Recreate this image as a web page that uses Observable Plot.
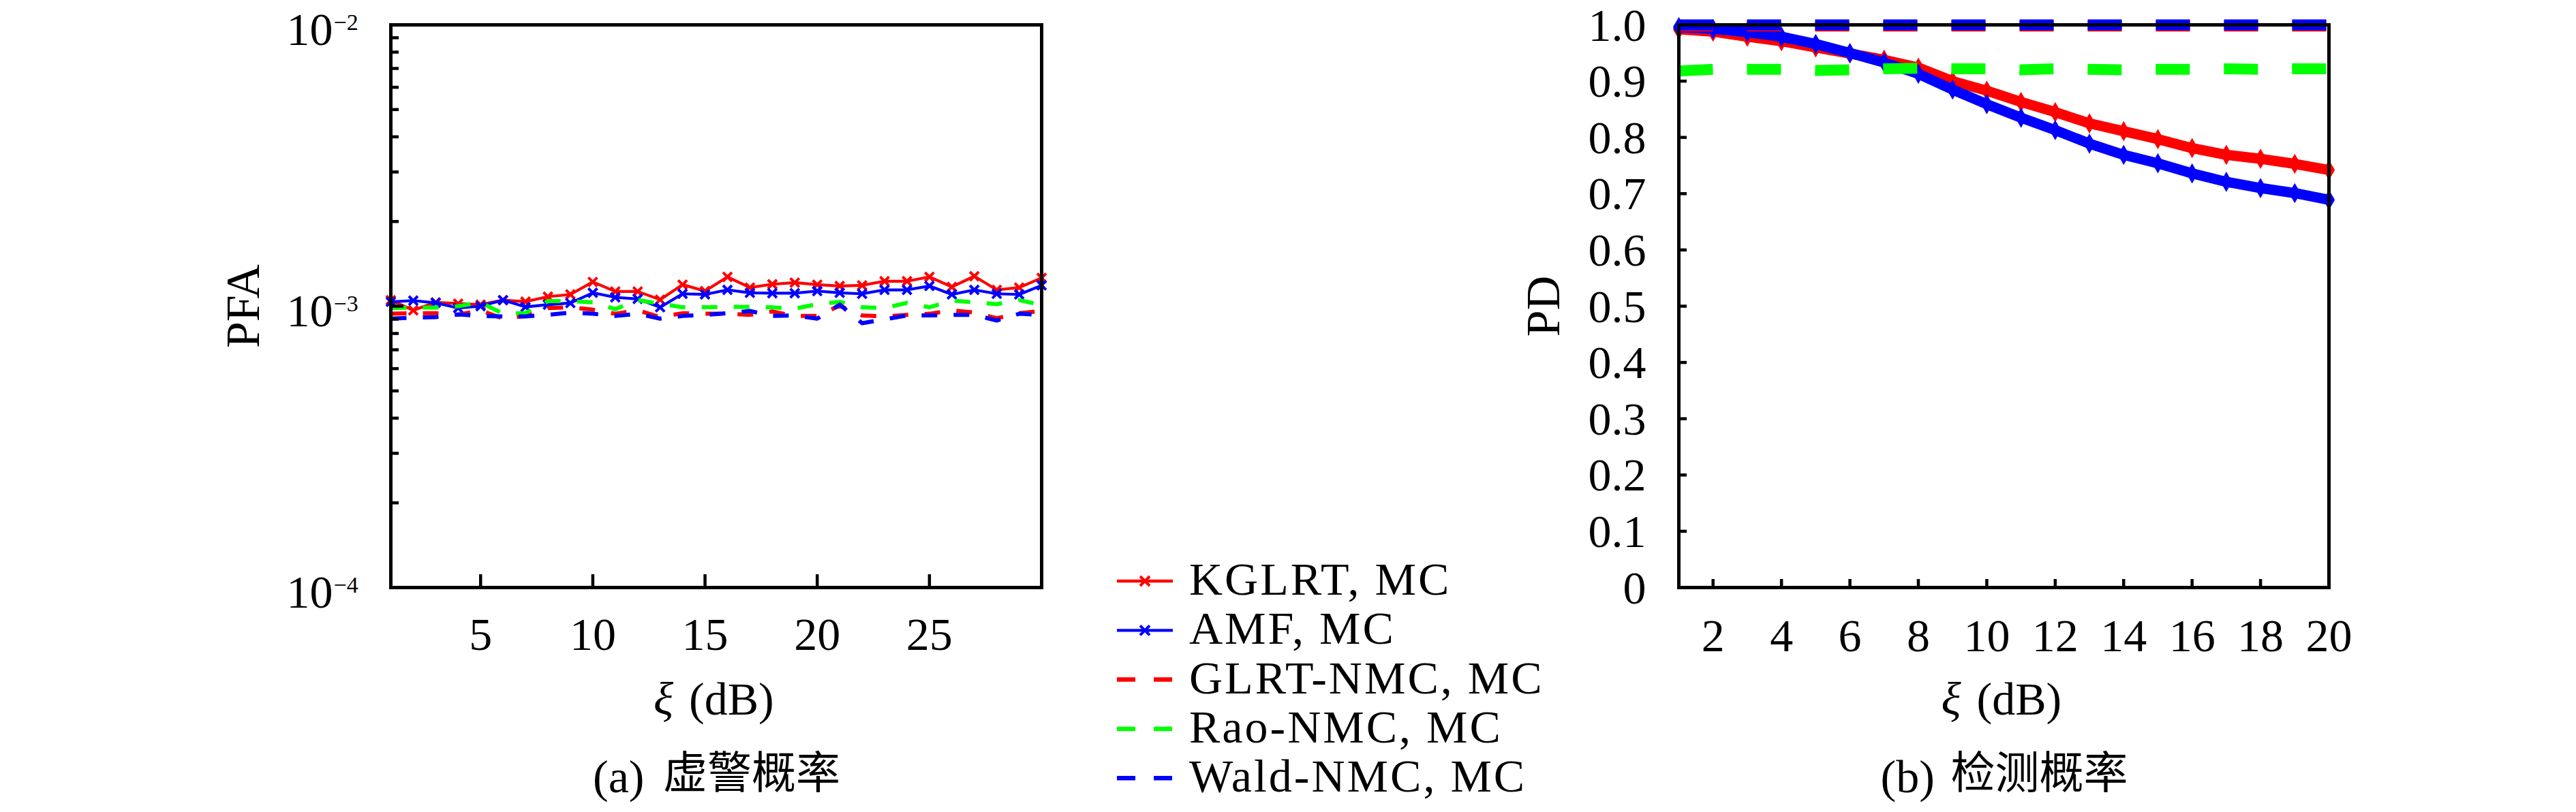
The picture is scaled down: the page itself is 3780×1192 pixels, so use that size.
<!DOCTYPE html>
<html><head><meta charset="utf-8">
<script src="https://cdn.jsdelivr.net/npm/d3@7"></script>
<script src="https://cdn.jsdelivr.net/npm/@observablehq/plot@0.6"></script>
<style>
html,body{margin:0;padding:0;background:#fff;}
#page{position:relative;width:3780px;height:1192px;overflow:hidden;background:#fff;}
#page > svg{position:absolute;top:0;}
</style></head><body><div id="page"></div>
<script>
const SERIF = "'Liberation Serif','DejaVu Serif',serif";
const CJK = "'Noto Sans CJK SC','Noto Sans CJK JP',sans-serif";

// ---- series ----
const seriesNames = ["KGLRT, MC", "AMF, MC", "GLRT-NMC, MC", "Rao-NMC, MC", "Wald-NMC, MC"];
const seriesColors = ["#ff0000", "#0000ff", "#ff0000", "#00ff00", "#0000ff"];
const seriesDashed = [false, false, true, true, true];
const seriesMarked = [true, true, false, false, false];

// ---- (a) PFA vs xi ----
const xiPFA = [1,2,3,4,5,6,7,8,9,10,11,12,13,14,15,16,17,18,19,20,21,22,23,24,25,26,27,28,29,30];
const pfaKGLRT = [1.051e-3,0.967e-3,1.032e-3,1.022e-3,1.013e-3,1.051e-3,1.038e-3,1.081e-3,1.101e-3,1.220e-3,1.128e-3,1.128e-3,1.055e-3,1.193e-3,1.132e-3,1.271e-3,1.165e-3,1.197e-3,1.213e-3,1.193e-3,1.180e-3,1.186e-3,1.227e-3,1.227e-3,1.271e-3,1.171e-3,1.278e-3,1.143e-3,1.165e-3,1.261e-3];
const pfaAMF = [1.036e-3,1.047e-3,1.028e-3,0.985e-3,1.000e-3,1.051e-3,0.994e-3,1.013e-3,1.026e-3,1.116e-3,1.075e-3,1.061e-3,0.991e-3,1.107e-3,1.101e-3,1.143e-3,1.116e-3,1.112e-3,1.112e-3,1.132e-3,1.116e-3,1.107e-3,1.143e-3,1.143e-3,1.180e-3,1.101e-3,1.143e-3,1.107e-3,1.101e-3,1.186e-3];
const pfaGLRTNMC = [0.940e-3,0.944e-3,0.944e-3,0.932e-3,0.967e-3,0.903e-3,0.923e-3,0.985e-3,0.991e-3,0.972e-3,0.940e-3,0.967e-3,0.915e-3,0.944e-3,0.940e-3,0.940e-3,0.932e-3,0.958e-3,0.923e-3,0.923e-3,1.004e-3,0.927e-3,0.920e-3,0.932e-3,0.940e-3,0.967e-3,0.949e-3,0.906e-3,0.944e-3,0.962e-3];
const pfaRaoNMC = [0.985e-3,0.989e-3,0.989e-3,1.000e-3,1.032e-3,0.940e-3,0.946e-3,1.042e-3,1.042e-3,1.032e-3,0.976e-3,1.051e-3,1.022e-3,0.991e-3,0.991e-3,0.994e-3,0.994e-3,0.991e-3,0.980e-3,1.017e-3,1.036e-3,0.991e-3,0.985e-3,1.028e-3,0.991e-3,1.047e-3,1.032e-3,1.017e-3,1.051e-3,1.010e-3];
const pfaWaldNMC = [0.903e-3,0.910e-3,0.915e-3,0.935e-3,0.923e-3,0.920e-3,0.920e-3,0.932e-3,0.949e-3,0.940e-3,0.923e-3,0.940e-3,0.903e-3,0.923e-3,0.932e-3,0.944e-3,0.962e-3,0.923e-3,0.927e-3,0.903e-3,1.013e-3,0.870e-3,0.898e-3,0.927e-3,0.927e-3,0.932e-3,0.932e-3,0.889e-3,0.940e-3,0.932e-3];

// ---- (b) PD vs xi ----
const xiPD = [1,2,3,4,5,6,7,8,9,10,11,12,13,14,15,16,17,18,19,20];
const pdKGLRT = [0.992,0.988,0.979,0.971,0.960,0.949,0.938,0.924,0.900,0.883,0.863,0.845,0.825,0.811,0.797,0.781,0.769,0.762,0.753,0.742];
const pdAMF = [0.996,0.993,0.987,0.979,0.966,0.950,0.933,0.913,0.885,0.859,0.835,0.813,0.789,0.769,0.754,0.736,0.721,0.710,0.701,0.689];
const pdGLRTNMC = [0.998,0.998,0.998,0.998,0.998,0.998,0.998,0.998,0.998,0.998,0.998,0.998,0.998,0.998,0.998,0.998,0.998,0.998,0.998,0.998];
const pdRaoNMC = [0.918,0.921,0.921,0.921,0.919,0.920,0.922,0.923,0.922,0.922,0.920,0.922,0.921,0.920,0.921,0.921,0.922,0.921,0.922,0.922];
const pdWaldNMC = [1.0,1.0,1.0,1.0,1.0,1.0,1.0,1.0,1.0,1.0,1.0,1.0,1.0,1.0,1.0,1.0,1.0,1.0,1.0,1.0];

// ---- ticks / labels ----
const pfaXTicks = [5, 10, 15, 20, 25];
const pfaYMajor = [1e-4, 1e-3, 1e-2];
const pfaYExp = ["\u22124", "\u22123", "\u22122"];
const pfaYMinor = [2e-4,3e-4,4e-4,5e-4,6e-4,7e-4,8e-4,9e-4,2e-3,3e-3,4e-3,5e-3,6e-3,7e-3,8e-3,9e-3];
const pdXTicks = [2, 4, 6, 8, 10, 12, 14, 16, 18, 20];
const pdYTicks = [0, 0.1, 0.2, 0.3, 0.4, 0.5, 0.6, 0.7, 0.8, 0.9, 1.0];
const pdYLabels = ["0", "0.1", "0.2", "0.3", "0.4", "0.5", "0.6", "0.7", "0.8", "0.9", "1.0"];
const xLabelSym = "\u03BE";
const xLabelUnit = "(dB)";
const pfaYLabel = "PFA";
const pdYLabel = "PD";
const captionA = ["(a)", "虚警概率"];
const captionB = ["(b)", "检测概率"];

const page = document.getElementById("page");
const rows = (xs, ys) => xs.map((x, j) => ({x, y: ys[j]}));

const FT = 36, FB = 862, FH = FB - FT;

function labelMarks(ylabel, ylabelDx, caption) {
  return [
    Plot.text([ylabel], {text: d => d, frameAnchor: "left", rotate: -90, dx: ylabelDx, fontSize: 70, fontFamily: SERIF, textAnchor: "middle", lineAnchor: "middle", fill: "black"}),
    Plot.text([xLabelSym], {text: d => d, frameAnchor: "bottom", textAnchor: "start", lineAnchor: "bottom", dx: -92, dy: 186, fontSize: 68, fontStyle: "italic", fontFamily: SERIF, fill: "black"}),
    Plot.text([xLabelUnit], {text: d => d, frameAnchor: "bottom", textAnchor: "start", lineAnchor: "bottom", dx: -40, dy: 186, fontSize: 68, fontFamily: SERIF, fill: "black"}),
    Plot.text([caption[0]], {text: d => d, frameAnchor: "bottom", textAnchor: "start", lineAnchor: "bottom", dx: -181, dy: 300, fontSize: 68, fontFamily: SERIF, fill: "black"}),
    Plot.text([caption[1]], {text: d => d, frameAnchor: "bottom", textAnchor: "start", lineAnchor: "bottom", dx: -78, dy: 294, fontSize: 65, fontFamily: CJK, fill: "black"})
  ];
}

// ---------- left panel ----------
{
  const svgLeft = 0, W = 1600;
  const L = 573, R = 1528;
  const FW = R - L;
  const marks = [];
  [pfaKGLRT, pfaAMF, pfaGLRTNMC, pfaRaoNMC, pfaWaldNMC].forEach((ys, i) => {
    const data = rows(xiPFA, ys);
    marks.push(Plot.line(data, {x: "x", y: "y", stroke: seriesColors[i],
      strokeWidth: seriesDashed[i] ? 6 : 4.2,
      strokeDasharray: seriesDashed[i] ? "23,24" : null,
      strokeLinecap: seriesDashed[i] ? "butt" : "round", strokeLinejoin: "round"}));
    if (seriesMarked[i]) marks.push(Plot.dot(data, {x: "x", y: "y", symbol: "times", r: 6, stroke: seriesColors[i], strokeWidth: 4}));
  });
  marks.push(
    Plot.tickX(pfaXTicks, {x: d => d, stroke: "black", strokeWidth: 4.5, insetTop: FH - 19}),
    Plot.tickY(pfaYMajor, {y: d => d, stroke: "black", strokeWidth: 4.5, insetRight: FW - 19}),
    Plot.tickY(pfaYMinor, {y: d => d, stroke: "black", strokeWidth: 4.5, insetRight: FW - 12}),
    Plot.frame({stroke: "black", strokeWidth: 5}),
    Plot.text(pfaXTicks, {x: d => d, text: d => String(d), frameAnchor: "bottom", lineAnchor: "bottom", dy: 91, fontSize: 68, fontFamily: SERIF, fill: "black"}),
    Plot.text(pfaYMajor, {y: d => d, text: () => "10", frameAnchor: "left", textAnchor: "end", lineAnchor: "bottom", dx: -85, dy: 29, fontSize: 68, fontFamily: SERIF, fill: "black"}),
    Plot.text(pfaYMajor, {y: d => d, text: (d, i) => pfaYExp[i], frameAnchor: "left", textAnchor: "start", lineAnchor: "bottom", dx: -84, dy: 7, fontSize: 34, fontFamily: SERIF, fill: "black"}),
    ...labelMarks(pfaYLabel, -216, captionA)
  );
  const svg = Plot.plot({
    width: W, height: 1192,
    marginLeft: L - svgLeft, marginRight: svgLeft + W - R, marginTop: FT, marginBottom: 1192 - FB,
    x: {domain: [1, 30], axis: null},
    y: {type: "log", domain: [1e-4, 1e-2], axis: null},
    style: {background: "none", overflow: "visible", maxWidth: "none"},
    marks
  });
  svg.style.left = svgLeft + "px";
  page.appendChild(svg);
}

// ---------- right panel ----------
{
  const svgLeft = 2100, W = 1680;
  const L = 2463, R = 3417;
  const FW = R - L;
  const marks = [];
  [pdKGLRT, pdAMF, pdGLRTNMC, pdRaoNMC, pdWaldNMC].forEach((ys, i) => {
    const data = rows(xiPD, ys);
    marks.push(Plot.line(data, {x: "x", y: "y", stroke: seriesColors[i],
      strokeWidth: seriesDashed[i] ? 16 : 15,
      strokeDasharray: seriesDashed[i] ? "50,50" : null,
      strokeLinecap: seriesDashed[i] ? "butt" : "round", strokeLinejoin: "round"}));
    if (seriesMarked[i]) marks.push(Plot.dot(data, {x: "x", y: "y", symbol: "diamond", r: 9, fill: seriesColors[i], stroke: "none"}));
  });
  marks.push(
    Plot.tickX(pdXTicks, {x: d => d, stroke: "black", strokeWidth: 4.5, insetTop: FH - 12}),
    Plot.tickY(pdYTicks, {y: d => d, stroke: "black", strokeWidth: 4.5, insetRight: FW - 12}),
    Plot.frame({stroke: "black", strokeWidth: 5}),
    Plot.text(pdXTicks, {x: d => d, text: d => String(d), frameAnchor: "bottom", lineAnchor: "bottom", dy: 93, fontSize: 68, fontFamily: SERIF, fill: "black"}),
    Plot.text(pdYTicks, {y: d => d, text: (d, i) => pdYLabels[i], frameAnchor: "left", textAnchor: "end", lineAnchor: "bottom", dx: -48, dy: 23, fontSize: 68, fontFamily: SERIF, fill: "black"}),
    ...labelMarks(pdYLabel, -198, captionB)
  );
  const svg = Plot.plot({
    width: W, height: 1192,
    marginLeft: L - svgLeft, marginRight: svgLeft + W - R, marginTop: FT, marginBottom: 1192 - FB,
    x: {domain: [1, 20], axis: null},
    y: {domain: [0, 1], axis: null},
    style: {background: "none", overflow: "visible", maxWidth: "none"},
    marks
  });
  svg.style.left = svgLeft + "px";
  page.appendChild(svg);
}

// ---------- legend ----------
{
  const lx0 = 1639, lx1 = 1721, tx = 1745, y0 = 853, dyRow = 72.3;
  const svg = d3.create("svg").attr("width", 3780).attr("height", 1192)
    .style("left", "0px").style("pointer-events", "none");
  seriesNames.forEach((name, i) => {
    const y = y0 + i * dyRow;
    svg.append("line").attr("x1", lx0).attr("x2", lx1).attr("y1", y).attr("y2", y)
      .attr("stroke", seriesColors[i]).attr("stroke-width", seriesDashed[i] ? 6.5 : 4.3)
      .attr("stroke-dasharray", seriesDashed[i] ? "27,27" : null);
    if (seriesMarked[i]) {
      const mx = (lx0 + lx1) / 2, s = 7;
      svg.append("path").attr("d", `M${mx - s},${y - s}L${mx + s},${y + s}M${mx - s},${y + s}L${mx + s},${y - s}`)
        .attr("stroke", seriesColors[i]).attr("stroke-width", 4).attr("fill", "none");
    }
    svg.append("text").attr("x", tx).attr("y", y + 20).attr("font-family", SERIF)
      .attr("font-size", 68).attr("letter-spacing", 3).attr("fill", "black").text(name);
  });
  page.appendChild(svg.node());
}
</script></body></html>
